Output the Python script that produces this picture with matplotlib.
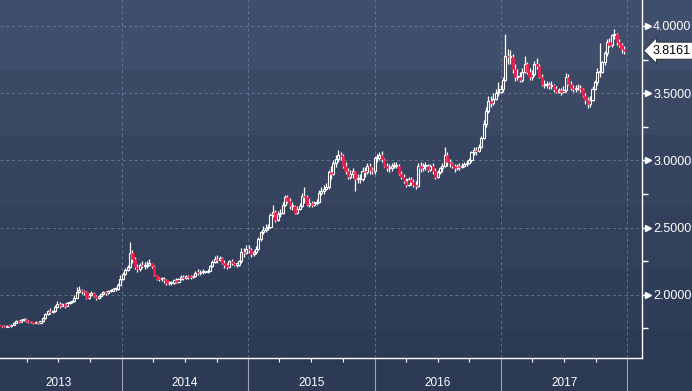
import numpy as np
import pandas as pd
import matplotlib
matplotlib.use("Agg")
import matplotlib.pyplot as plt
import matplotlib.dates as mdates
from matplotlib.transforms import blended_transform_factory

# ---- weekly USD/TRY candles ----
first_week = "2013-01-04"
first_open = 1.780

closes_2013 = [1.776, 1.771, 1.767, 1.763, 1.768, 1.765, 1.779, 1.793, 1.804, 1.800, 1.812, 1.822, 1.806,
               1.800, 1.795, 1.792, 1.797, 1.793, 1.802, 1.826, 1.857, 1.880, 1.873, 1.880, 1.908, 1.930,
               1.920, 1.930, 1.918, 1.940, 1.946, 1.955, 1.980, 2.020, 2.035, 2.025, 2.020, 1.978, 2.000,
               2.012, 1.990, 1.975, 1.990, 2.003, 2.020, 2.010, 2.030, 2.030, 2.040, 2.040, 2.075, 2.115]
highs_2013 = [1.787, 1.782, 1.778, 1.772, 1.774, 1.773, 1.784, 1.798, 1.812, 1.810, 1.818, 1.828, 1.826,
              1.812, 1.803, 1.800, 1.802, 1.800, 1.808, 1.832, 1.868, 1.890, 1.905, 1.890, 1.925, 1.955,
              1.945, 1.942, 1.938, 1.948, 1.955, 1.965, 1.995, 2.055, 2.065, 2.045, 2.035, 2.028, 2.010,
              2.025, 2.020, 1.998, 1.998, 2.012, 2.030, 2.025, 2.038, 2.042, 2.050, 2.055, 2.085, 2.150]
lows_2013 = [1.770, 1.765, 1.761, 1.757, 1.758, 1.759, 1.762, 1.775, 1.790, 1.792, 1.798, 1.808, 1.800,
             1.792, 1.788, 1.785, 1.788, 1.785, 1.790, 1.800, 1.822, 1.850, 1.855, 1.862, 1.872, 1.900,
             1.905, 1.915, 1.905, 1.915, 1.932, 1.940, 1.950, 1.975, 2.010, 2.005, 2.000, 1.970, 1.968,
             1.990, 1.982, 1.965, 1.970, 1.985, 1.998, 2.000, 2.005, 2.020, 2.025, 2.030, 2.035, 2.070]

closes_2014 = [2.155, 2.185, 2.205, 2.310, 2.270, 2.210, 2.190, 2.220, 2.215, 2.215, 2.225, 2.235, 2.215,
               2.145, 2.120, 2.115, 2.120, 2.110, 2.085, 2.085, 2.090, 2.110, 2.095, 2.115, 2.135, 2.125,
               2.140, 2.135, 2.130, 2.140, 2.165, 2.160, 2.170, 2.170, 2.170, 2.180, 2.215, 2.245, 2.270,
               2.260, 2.275, 2.240, 2.225, 2.210, 2.250, 2.235, 2.225, 2.225, 2.250, 2.320, 2.310, 2.340]
highs_2014 = [2.170, 2.200, 2.220, 2.390, 2.330, 2.280, 2.230, 2.240, 2.250, 2.245, 2.250, 2.265, 2.240,
              2.220, 2.150, 2.135, 2.135, 2.130, 2.115, 2.105, 2.105, 2.120, 2.125, 2.125, 2.150, 2.150,
              2.145, 2.150, 2.145, 2.150, 2.180, 2.190, 2.185, 2.190, 2.180, 2.190, 2.225, 2.260, 2.290,
              2.295, 2.290, 2.285, 2.260, 2.240, 2.260, 2.265, 2.245, 2.240, 2.260, 2.350, 2.345, 2.370]
lows_2014 = [2.110, 2.150, 2.175, 2.200, 2.240, 2.190, 2.170, 2.180, 2.200, 2.195, 2.200, 2.215, 2.200,
             2.140, 2.110, 2.100, 2.105, 2.090, 2.075, 2.070, 2.075, 2.080, 2.085, 2.090, 2.110, 2.110,
             2.115, 2.120, 2.115, 2.125, 2.135, 2.145, 2.150, 2.155, 2.160, 2.165, 2.175, 2.210, 2.240,
             2.235, 2.250, 2.230, 2.200, 2.195, 2.205, 2.225, 2.215, 2.210, 2.215, 2.240, 2.280, 2.300]

closes_2015 = [2.335, 2.300, 2.315, 2.340, 2.415, 2.465, 2.485, 2.500, 2.505, 2.590, 2.615, 2.560, 2.600,
               2.610, 2.670, 2.730, 2.700, 2.660, 2.660, 2.610, 2.640, 2.660, 2.735, 2.730, 2.670, 2.680,
               2.670, 2.680, 2.690, 2.760, 2.770, 2.790, 2.800, 2.910, 2.900, 2.980, 3.010, 3.040, 3.030,
               2.960, 2.920, 2.880, 2.900, 2.920, 2.860, 2.860, 2.860, 2.920, 2.910, 2.960, 2.930, 2.920]
highs_2015 = [2.370, 2.345, 2.335, 2.360, 2.430, 2.475, 2.510, 2.525, 2.530, 2.610, 2.670, 2.630, 2.620,
              2.640, 2.690, 2.740, 2.740, 2.720, 2.690, 2.670, 2.660, 2.680, 2.760, 2.800, 2.740, 2.720,
              2.700, 2.700, 2.710, 2.780, 2.800, 2.820, 2.830, 2.930, 2.960, 3.000, 3.040, 3.080, 3.060,
              3.050, 2.990, 2.940, 2.930, 2.940, 2.920, 2.900, 2.900, 2.950, 2.950, 2.980, 2.980, 2.950]
lows_2015 = [2.310, 2.280, 2.290, 2.300, 2.330, 2.400, 2.450, 2.470, 2.480, 2.500, 2.580, 2.540, 2.550,
             2.580, 2.600, 2.660, 2.680, 2.640, 2.630, 2.600, 2.600, 2.630, 2.650, 2.680, 2.660, 2.650,
             2.650, 2.660, 2.670, 2.680, 2.740, 2.750, 2.780, 2.790, 2.860, 2.890, 2.950, 2.990, 3.000,
             2.940, 2.900, 2.860, 2.860, 2.870, 2.770, 2.830, 2.830, 2.850, 2.880, 2.900, 2.900, 2.900]

closes_2016 = [3.020, 3.020, 3.040, 3.010, 2.960, 2.940, 2.940, 2.960, 2.960, 2.960, 2.900, 2.880, 2.850,
               2.820, 2.860, 2.840, 2.820, 2.810, 2.960, 2.940, 2.960, 2.960, 2.930, 2.960, 2.920, 2.880,
               2.910, 2.940, 2.960, 3.040, 2.990, 2.980, 2.960, 2.940, 2.960, 2.950, 2.960, 2.970, 2.980,
               3.000, 3.060, 3.080, 3.070, 3.100, 3.170, 3.270, 3.370, 3.440, 3.430, 3.460, 3.500, 3.510,
               3.530]
highs_2016 = [3.030, 3.050, 3.060, 3.070, 3.020, 2.980, 2.970, 2.980, 2.990, 2.990, 2.970, 2.920, 2.900,
              2.870, 2.880, 2.880, 2.860, 2.850, 2.980, 2.990, 2.980, 2.990, 2.970, 2.970, 2.980, 2.940,
              2.930, 2.950, 2.980, 3.100, 3.060, 3.010, 2.990, 2.970, 2.970, 2.980, 2.980, 2.990, 3.000,
              3.020, 3.070, 3.100, 3.100, 3.120, 3.180, 3.300, 3.400, 3.480, 3.480, 3.500, 3.530, 3.580,
              3.560]
lows_2016 = [2.900, 2.990, 3.000, 2.990, 2.950, 2.920, 2.910, 2.920, 2.940, 2.940, 2.890, 2.860, 2.830,
             2.800, 2.810, 2.820, 2.800, 2.790, 2.800, 2.910, 2.920, 2.930, 2.910, 2.920, 2.900, 2.860,
             2.870, 2.900, 2.910, 2.950, 2.960, 2.950, 2.940, 2.910, 2.930, 2.930, 2.940, 2.950, 2.960,
             2.970, 2.990, 3.040, 3.040, 3.060, 3.090, 3.160, 3.250, 3.350, 3.400, 3.410, 3.450, 3.480,
             3.500]

closes_2017 = [3.600, 3.780, 3.770, 3.770, 3.680, 3.620, 3.620, 3.600, 3.660, 3.720, 3.660, 3.620, 3.640,
               3.720, 3.700, 3.620, 3.560, 3.560, 3.560, 3.550, 3.560, 3.530, 3.510, 3.520, 3.510, 3.520,
               3.620, 3.570, 3.540, 3.530, 3.530, 3.540, 3.530, 3.480, 3.450, 3.420, 3.450, 3.530, 3.580,
               3.660, 3.660, 3.730, 3.800, 3.880, 3.860, 3.930, 3.940, 3.880, 3.860, 3.830, 3.8161]
highs_2017 = [3.620, 3.940, 3.830, 3.820, 3.790, 3.720, 3.680, 3.660, 3.690, 3.780, 3.730, 3.690, 3.670,
              3.740, 3.760, 3.720, 3.640, 3.600, 3.590, 3.580, 3.590, 3.570, 3.550, 3.540, 3.540, 3.550,
              3.650, 3.640, 3.590, 3.560, 3.560, 3.570, 3.560, 3.540, 3.500, 3.470, 3.480, 3.550, 3.600,
              3.690, 3.870, 3.740, 3.810, 3.900, 3.910, 3.940, 3.980, 3.950, 3.900, 3.870, 3.850]
lows_2017 = [3.510, 3.590, 3.720, 3.720, 3.650, 3.590, 3.600, 3.580, 3.580, 3.650, 3.640, 3.600, 3.600,
             3.630, 3.680, 3.610, 3.550, 3.540, 3.540, 3.530, 3.530, 3.510, 3.500, 3.500, 3.490, 3.500,
             3.510, 3.560, 3.520, 3.510, 3.510, 3.520, 3.510, 3.470, 3.420, 3.390, 3.400, 3.440, 3.520,
             3.560, 3.620, 3.650, 3.710, 3.780, 3.840, 3.840, 3.900, 3.860, 3.840, 3.800, 3.790]

year_labels = ["2013", "2014", "2015", "2016", "2017"]
y_major = [2.0, 2.5, 3.0, 3.5, 4.0]
last_price = 3.8161

# ---- assemble ----
closes = np.array(closes_2013 + closes_2014 + closes_2015 + closes_2016 + closes_2017)
highs = np.array(highs_2013 + highs_2014 + highs_2015 + highs_2016 + highs_2017)
lows = np.array(lows_2013 + lows_2014 + lows_2015 + lows_2016 + lows_2017)
opens = np.concatenate([[first_open], closes[:-1]])
dates = pd.date_range(first_week, periods=len(closes), freq="7D")
x = mdates.date2num(dates)

W, H = 692, 391
fig = plt.figure(figsize=(W / 100, H / 100), dpi=100)

# banded navy gradient behind everything
bg = fig.add_axes([0, 0, 1, 1], zorder=-5)
bands = np.array([[63, 78, 106], [59, 73, 101], [55, 68, 95], [51, 64, 91], [47, 61, 88], [44, 58, 85]]) / 255
rows = np.repeat(bands, [70, 65, 70, 65, 60, 61], axis=0)
bg.imshow(rows[:, None, :], aspect="auto", extent=[0, 1, 0, 1])
bg.axis("off")

ax = fig.add_axes([0, 33 / H, 642 / W, 358 / H])
ax.set_facecolor("none")

# candles: hollow white up, red down
up = closes >= opens
body_lo = np.minimum(opens, closes)
body_h = np.maximum(np.abs(closes - opens), 0.008)
ax.vlines(x, np.minimum(lows, body_lo), np.maximum(highs, body_lo + body_h),
          color="white", lw=0.9, zorder=3)
ax.bar(x[up], body_h[up], bottom=body_lo[up], width=6, color="#34425f",
       edgecolor="white", lw=0.8, zorder=4)
ax.bar(x[~up], body_h[~up], bottom=body_lo[~up], width=6.5, color="#ff1744",
       edgecolor="#ff1744", lw=0.4, zorder=4)

ax.set_ylim(1.530, 4.193)
ax.set_xlim(mdates.datestr2num("2013-01-13"), mdates.datestr2num("2018-02-12"))

# spines
for s in ["left", "top"]:
    ax.spines[s].set_visible(False)
for s in ["right", "bottom"]:
    ax.spines[s].set_color("white")
    ax.spines[s].set_linewidth(1.0)

# x axis: long grey year ticks, short quarter ticks, labels centred in each year
year_starts = [mdates.datestr2num(f"{y}-01-01") for y in range(2014, 2019)]
ax.set_xticks(year_starts)
ax.set_xticklabels([])
ax.xaxis.set_minor_locator(mdates.MonthLocator(bymonth=[4, 7, 10]))
ax.tick_params(axis="x", which="major", length=24, width=0.8, color="#9aa3b3", direction="out")
ax.tick_params(axis="x", which="minor", length=3, width=0.8, color="white", direction="out")
tr = blended_transform_factory(ax.transData, fig.transFigure)
for lab in year_labels:
    mid = mdates.datestr2num(f"{lab}-07-02")
    ax.text(mid, 8 / H, lab, transform=tr, ha="center", va="center",
            color="white", fontsize=8.5, family="Liberation Sans")

# y axis on the right
ax.yaxis.tick_right()
ax.set_yticks(y_major)
ax.set_yticklabels([f"{v:.4f}" for v in y_major], family="Liberation Sans")
ax.set_yticks([1.75, 2.25, 2.75, 3.25, 3.75], minor=True)
ax.tick_params(axis="y", which="major", length=3, width=1, color="white", pad=5,
               labelcolor="white", labelsize=9)
ax.tick_params(axis="y", which="minor", length=4, width=1, color="white")
ytr = blended_transform_factory(ax.transAxes, ax.transData)
ax.plot([1.010] * len(y_major), y_major, ">", color="white", ms=4.5, transform=ytr,
        clip_on=False, zorder=6)

# dashed grid
ax.grid(True, which="major", color="#6a819d", ls=(0, (3, 3)), lw=0.7, alpha=0.8)
ax.set_axisbelow(True)

# last price tag
ax.annotate(f"{last_price:.4f}", xy=(1.0, last_price), xycoords=ytr,
            xytext=(1.017, last_price), textcoords=ytr, ha="left", va="center",
            fontsize=9, color="black", family="Liberation Sans",
            bbox=dict(boxstyle="larrow,pad=0.2", fc="white", ec="#222222", lw=0.6),
            annotation_clip=False, zorder=7)

fig.savefig("out.png", dpi=100)
